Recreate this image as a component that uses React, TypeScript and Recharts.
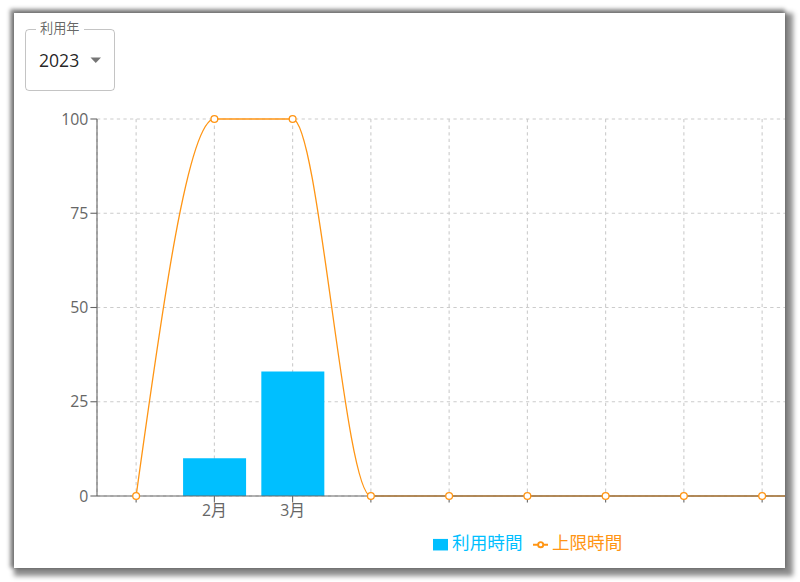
import React from "react"
import {
  ComposedChart, Bar, Line, XAxis, YAxis, CartesianGrid, Legend,
} from "recharts"

// months of the selected year (January … December)
const MONTHS = ["1", "2", "3", "4", "5", "6", "7", "8", "9", "10", "11", "12"]
// only months with usage get a label on the axis
const TICK_LABELS = ["", "2月", "3月", "", "", "", "", "", "", "", "", ""]
// 利用時間 (hours used)
const USAGE: (number | null)[] = [null, 10, 33, null, null, null, null, null, null, null, null, null]
// 上限時間 (hour limit)
const LIMIT = [0, 100, 100, 0, 0, 0, 0, 0, 0, 0, 0, 0]
const Y_TICKS = [0, 25, 50, 75, 100]

const BLUE = "#00bfff"
const ORANGE = "#ff9514"
const FONT = "'Open Sans', 'Noto Sans CJK JP', sans-serif"

const data = MONTHS.map((m, i) => ({ month: m, usage: USAGE[i], limit: LIMIT[i] }))

function YearSelect() {
  return (
    <div style={{ position: "absolute", left: 11, top: 16, width: 90, height: 62 }}>
      <div
        style={{
          position: "absolute", inset: 0, border: "1px solid rgba(0,0,0,0.23)",
          borderRadius: 4, boxSizing: "border-box",
        }}
      />
      <div
        style={{
          position: "absolute", left: 11, top: -8, padding: "0 4px", background: "#fff",
          fontSize: 13.2, lineHeight: "15px", color: "rgba(0,0,0,0.6)",
        }}
      >
        利用年
      </div>
      <div
        style={{
          position: "absolute", left: 14, top: 0, height: 62, display: "flex", alignItems: "center",
          fontSize: 17.6, color: "rgba(0,0,0,0.87)",
        }}
      >
        2023
      </div>
      <svg style={{ position: "absolute", left: 65, top: 28 }} width={12} height={7}>
        <path d="M0.5,0.5 L11,0.5 L5.75,6 Z" fill="rgba(0,0,0,0.54)" />
      </svg>
    </div>
  )
}

export default function App() {
  return (
    <div style={{ position: "absolute", left: 0, top: 0, width: 800, height: 582, background: "#fff", fontFamily: FONT }}>
      <div
        style={{
          position: "absolute", left: 14, top: 13, width: 771, height: 555, background: "#fff",
          overflow: "hidden",
          boxShadow: "-2px -2px 4px 2px rgba(0,0,0,0.42), 4px 4px 5px 4px rgba(0,0,0,0.45)",
        }}
      >
        <YearSelect />
        <div style={{ position: "absolute", left: 12, top: 91 }}>
          <ComposedChart
            width={1015}
            height={455}
            data={data}
            margin={{ top: 15, right: 5, left: 5, bottom: 5 }}
            style={{ fontFamily: FONT }}
          >
            <CartesianGrid strokeDasharray="3.3 3.3" stroke="#ccc" strokeWidth={1.1} />
            <XAxis
              dataKey="month"
              height={33}
              tickSize={6.6}
              tick={{ fontSize: 15.8, fill: "#666" }}
              tickFormatter={(_v, i) => TICK_LABELS[i]}
              interval={0}
              strokeWidth={1.1}
            />
            <YAxis
              width={66}
              domain={[0, 100]}
              ticks={Y_TICKS}
              tickSize={6.6}
              tick={{ fontSize: 15.8, fill: "#666" }}
              strokeWidth={1.1}
            />
            <Bar dataKey="usage" name="利用時間" fill={BLUE} isAnimationActive={false} />
            <Line
              type="monotone"
              dataKey="limit"
              name="上限時間"
              stroke={ORANGE}
              strokeWidth={1.3}
              dot={{ r: 3.4, strokeWidth: 1.3, fill: "#fff", stroke: ORANGE }}
              isAnimationActive={false}
            />
            <Legend
              iconSize={15.4}
              itemSorter={(item: any) => (item.dataKey === "usage" ? 0 : 1)}
              wrapperStyle={{ left: 0, width: 1013, fontSize: 17.6 }}
            />
          </ComposedChart>
        </div>
      </div>
    </div>
  )
}
